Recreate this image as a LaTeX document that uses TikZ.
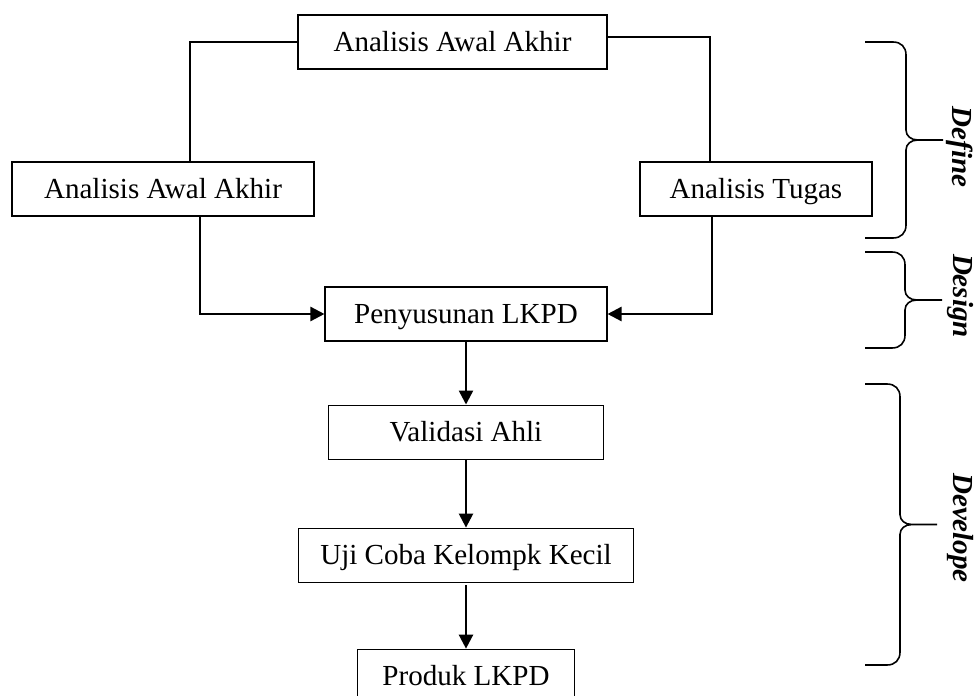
\documentclass[tikz,border=0pt]{standalone}
\usepackage{fontspec}
\setmainfont{Liberation Serif}
\usetikzlibrary{arrows.meta, positioning}

\begin{document}
\begin{tikzpicture}[
  x=0.75pt, y=-0.75pt,
  box/.style={rectangle, draw=black, line width=0.8pt, inner sep=0pt,
              minimum height=40.5pt, minimum width=#1,
              text height=14.4pt, text depth=0pt,
              font=\fontsize{21.8pt}{26pt}\selectfont},
  link/.style={line width=1.2pt},
  arr/.style={-{Triangle[length=10.5pt, width=10.5pt]}, line width=1.8pt},
  brc/.style={line width=1.2pt},
  phase/.style={rotate=-90, font=\fontsize{21.8pt}{26pt}\selectfont\bfseries\itshape}
]
\useasboundingbox (0,0) rectangle (975,696);

% Define: three analyses
\node[box=231.75pt] (awal)  at (452.5,42) {Analisis Awal Akhir};
\node[box=226.5pt]  (awal2) at (163,189)  {Analisis Awal Akhir\hspace{14pt}};
\node[box=174pt]    (tugas) at (756,189)  {Analisis Tugas\hspace{10pt}};

% Design and Develope: main column
\node[box=211.5pt] (susun) at (466,314) {Penyusunan LKPD\hspace{12pt}};
\node[box=206.25pt, below=47.25pt of susun] (valid) {Validasi Ahli};
\node[box=251.25pt, below=51pt of valid]    (uji)   {Uji Coba Kelompk Kecil};
\node[box=162.75pt, below=49.5pt of uji]    (prod)  {Produk LKPD\hspace{7pt}};

% Plain links from the top box
\draw[link] (awal.west) -| ([xshift=20.25pt]awal2.north);
\draw[link] ([yshift=3.75pt]awal.east) -| ([xshift=-34.5pt]tugas.north);

% Arrows into the main column
\draw[arr] ([xshift=27.75pt]awal2.south) |- (susun.west);
\draw[arr] ([xshift=-33pt]tugas.south) |- (susun.east);
\draw[arr] (susun) -- (valid);
\draw[arr] (valid) -- (uji);
\draw[arr] ([yshift=-2pt]uji.south) -- (prod);

% Phase braces on the right
\foreach \yt/\yb/\xv/\xt/\ly/\lbl in {42/238/906/943/147/Define, 252/348/905/942/296/Design, 384/665/900/937/528/Develope}{
  \pgfmathsetmacro{\ym}{(\yt+\yb)/2}
  \draw[brc] (865,\yt) -- (\xv-13,\yt)
    .. controls (\xv-5,\yt) and (\xv,\yt+5) .. (\xv,\yt+13)
    -- (\xv,\ym-10)
    .. controls (\xv,\ym-4) and (\xv+5,\ym) .. (\xv+12,\ym) -- (\xt,\ym)
    (\xv+12,\ym)
    .. controls (\xv+5,\ym) and (\xv,\ym+4) .. (\xv,\ym+10)
    -- (\xv,\yb-13)
    .. controls (\xv,\yb-5) and (\xv-5,\yb) .. (\xv-13,\yb) -- (865,\yb);
  \node[phase] (ph-\lbl) at (960,\ly) {\lbl};
}

\end{tikzpicture}
\end{document}
